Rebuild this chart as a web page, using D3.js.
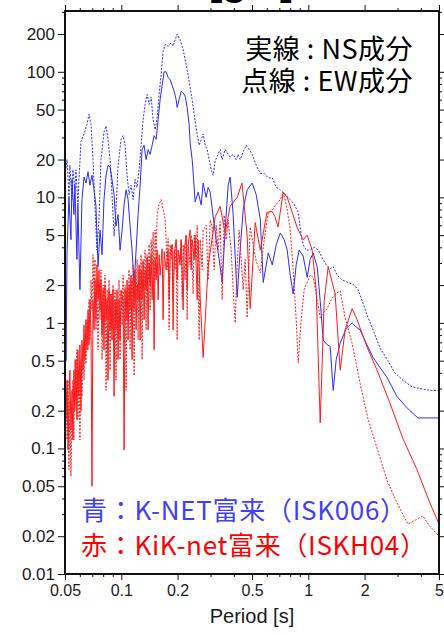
<!DOCTYPE html>
<html>
<head>
<meta charset="utf-8">
<script src="https://cdn.jsdelivr.net/npm/d3@7"></script>
<style>
  body { margin: 0; background: #fff; }
  svg { display: block; }
  .axis text { font-family: "Liberation Sans", Arial, sans-serif; font-size: 16px; fill: #1a1a1a; }
  .axis.yl text { font-size: 17px; }
  .axis path, .axis line { stroke: #111; }
</style>
</head>
<body>
<script>
// period [s], response value  (K-NET = blue, KiK-net = red)
var knetNS = [[0.0500,6.0],[0.0506,0.5],[0.0513,3.8],[0.0525,10],[0.0538,4.6],[0.0545,13.9],[0.0558,7.3],[0.0565,12.5],[0.0579,3.2],[0.0586,8.8],[0.0601,1.84],[0.0616,9.6],[0.0632,14.5],[0.0647,13],[0.0664,16],[0.0680,12.5],[0.0697,15],[0.0715,11.5],[0.0732,8.5],[0.0751,2.8],[0.0770,5.5],[0.0789,3.5],[0.0808,9.6],[0.0829,15],[0.0849,18],[0.0871,17.5],[0.0892,13.9],[0.0915,10.5],[0.0937,5.9],[0.0961,7.3],[0.0985,3.8],[0.1010,5.5],[0.1035,8.7],[0.1061,11.5],[0.1087,9.6],[0.1114,6.0],[0.1142,3.8],[0.1171,2.0],[0.1200,3.8],[0.1230,7.3],[0.1261,12.5],[0.1292,24],[0.1324,26],[0.1357,20],[0.1391,24],[0.1426,22],[0.1462,26],[0.1498,31],[0.1536,29],[0.1574,41.6],[0.1613,60],[0.1653,78],[0.1695,100],[0.1737,100],[0.1780,90],[0.1825,87],[0.1870,78],[0.1917,70],[0.1965,60],[0.1989,52],[0.2039,60],[0.2090,70],[0.2142,68],[0.2195,64],[0.2250,52],[0.2306,38],[0.2335,27],[0.2393,20],[0.2423,15.6],[0.2483,9.2],[0.2577,11],[0.2674,8.7],[0.2740,13],[0.2843,10],[0.2914,12],[0.2987,11],[0.3099,7.1],[0.3216,4.6],[0.3337,3.2],[0.3462,2.1],[0.3593,5.5],[0.3728,12.5],[0.3821,14.5],[0.3965,7.3],[0.4165,1.6],[0.4322,3.8],[0.4485,8],[0.4712,11.5],[0.5012,13],[0.5266,10.5],[0.5536,6.7],[0.5742,2.1],[0.6107,3.6],[0.6416,2.9],[0.6740,4.2],[0.7081,5.2],[0.7435,4.6],[0.7714,3.8],[0.8004,2.4],[0.8302,1.7],[0.8614,2.9],[0.8938,3.8],[0.9390,3.4],[0.9864,2.3],[1.0234,3.2],[1.062,3.6],[1.116,2.8],[1.158,1.5],[1.201,0.73],[1.262,0.67],[1.309,0.65],[1.359,0.29],[1.410,0.51],[1.481,0.69],[1.593,0.9],[1.715,1.0],[1.802,0.93],[1.893,0.88],[2.038,0.69],[2.221,0.53],[2.421,0.44],[2.633,0.37],[2.975,0.26],[3.285,0.22],[3.494,0.2],[3.856,0.175],[4.202,0.175],[5.0,0.175]];

var knetEW = [[0.0500,15],[0.0513,20],[0.0525,10],[0.0531,18],[0.0545,9.6],[0.0551,16.6],[0.0565,11.5],[0.0572,16.6],[0.0586,8.8],[0.0594,13.9],[0.0609,28],[0.0632,32],[0.0655,38],[0.0672,46],[0.0689,38],[0.0706,20],[0.0723,8.5],[0.0741,3.8],[0.0760,6.6],[0.0779,20],[0.0808,33],[0.0829,37],[0.0849,29],[0.0871,20],[0.0892,10.5],[0.0915,4.9],[0.0937,8],[0.0961,18],[0.0997,29],[0.1022,31],[0.1048,26],[0.1074,15],[0.1101,10.5],[0.1128,12.5],[0.1156,9.6],[0.1185,13.9],[0.1215,12],[0.1245,16.6],[0.1276,26],[0.1308,41.6],[0.1341,55],[0.1374,66],[0.1409,55],[0.1444,63],[0.1480,41.6],[0.1517,34.6],[0.1555,43],[0.1593,66],[0.1633,95],[0.1674,145],[0.1716,165],[0.1780,160],[0.1847,170],[0.1893,160],[0.1941,180],[0.1989,200],[0.2064,180],[0.2142,150],[0.2223,114],[0.2306,84],[0.2393,60],[0.2483,40],[0.2545,32],[0.2609,26],[0.2674,28.8],[0.2740,32],[0.2809,26],[0.2879,24],[0.2950,20],[0.3024,16.6],[0.3099,15],[0.3177,19.5],[0.3296,22],[0.3378,24],[0.3462,20],[0.3593,24],[0.3728,22],[0.3821,21],[0.3965,22],[0.4116,20],[0.4216,22],[0.4322,20],[0.4485,23],[0.4654,26],[0.4830,24],[0.5012,22],[0.5266,18],[0.5536,15.5],[0.5813,15.5],[0.6107,14.3],[0.6416,14.3],[0.6740,12],[0.7081,11.5],[0.7529,10.5],[0.8004,9.6],[0.8405,8.8],[0.8829,7.6],[0.9161,5],[0.9390,4.2],[0.9743,3.8],[1.0234,3.8],[1.075,4.0],[1.130,3.8],[1.187,3.3],[1.247,2.9],[1.309,2.7],[1.359,2.8],[1.427,2.4],[1.518,2.2],[1.633,2.1],[1.758,2.0],[1.847,1.84],[1.940,1.5],[2.063,1.15],[2.221,0.88],[2.421,0.63],[2.665,0.5],[2.903,0.4],[3.205,0.35],[3.581,0.31],[3.952,0.3],[4.465,0.29],[5.0,0.29]];

var kiknetNS = [[0.0500,0.51],[0.0506,0.17],[0.0513,0.35],[0.0519,0.097],[0.0525,0.24],[0.0531,0.42],[0.0538,0.14],[0.0545,0.29],[0.0551,0.117],[0.0558,0.42],[0.0565,0.2],[0.0572,0.51],[0.0579,0.17],[0.0586,0.61],[0.0594,0.26],[0.0601,0.67],[0.0609,0.2],[0.0616,0.73],[0.0624,0.42],[0.0632,0.96],[0.0639,0.51],[0.0647,1.06],[0.0655,0.61],[0.0664,1.27],[0.0672,0.67],[0.0680,1.53],[0.0689,0.88],[0.0697,0.05],[0.0706,1.53],[0.0715,0.88],[0.0723,2.2],[0.0732,1.06],[0.0741,2.9],[0.0751,1.53],[0.0760,2.65],[0.0770,1.27],[0.0779,2.2],[0.0789,0.8],[0.0799,1.84],[0.0808,0.61],[0.0818,2.0],[0.0829,1.06],[0.0839,1.53],[0.0849,0.35],[0.0860,1.84],[0.0871,0.88],[0.0881,1.7],[0.0892,0.73],[0.0903,1.84],[0.0915,0.26],[0.0926,1.53],[0.0937,0.88],[0.0949,1.84],[0.0961,0.51],[0.0973,1.53],[0.0985,0.73],[0.0997,1.8],[0.1022,1.53],[0.1035,0.097],[0.1048,1.84],[0.1061,1.06],[0.1074,2.2],[0.1087,0.73],[0.1101,2.0],[0.1114,1.27],[0.1128,2.4],[0.1142,0.51],[0.1156,2.2],[0.1171,1.27],[0.1185,2.65],[0.1200,0.88],[0.1215,2.0],[0.1230,1.53],[0.1245,2.9],[0.1261,0.73],[0.1276,2.65],[0.1292,1.53],[0.1308,3.1],[0.1324,1.06],[0.1341,2.65],[0.1357,1.84],[0.1374,3.3],[0.1391,0.88],[0.1409,2.9],[0.1426,2.0],[0.1444,3.5],[0.1462,1.53],[0.1480,3.1],[0.1498,0.61],[0.1517,3.3],[0.1536,2.2],[0.1555,3.8],[0.1574,1.53],[0.1593,3.5],[0.1613,2.4],[0.1653,3.9],[0.1674,1.06],[0.1695,3.7],[0.1737,2.65],[0.1780,3.8],[0.1802,1.53],[0.1825,3.5],[0.1870,4.2],[0.1893,0.88],[0.1917,3.5],[0.1965,4.6],[0.1989,2.2],[0.2014,3.8],[0.2064,2.9],[0.2090,4.6],[0.2142,1.27],[0.2169,3.8],[0.2223,5.0],[0.2250,1.84],[0.2278,4.2],[0.2335,5.5],[0.2364,2.65],[0.2393,4.6],[0.2453,3.2],[0.2483,5.0],[0.2545,1.53],[0.2577,4.6],[0.2641,1.6],[0.2740,0.53],[0.2914,2.8],[0.3177,7],[0.3378,8.5],[0.3593,5.2],[0.3821,8.5],[0.4165,10],[0.4420,13],[0.4712,4.9],[0.4890,1.3],[0.5200,6.3],[0.5536,3.8],[0.6010,7.6],[0.6416,7.7],[0.6640,7],[0.6890,5.8],[0.7345,11],[0.7714,10],[0.8004,8.5],[0.8700,5.8],[0.9390,4.6],[0.9864,5],[1.049,3.8],[1.102,1.84],[1.158,0.16],[1.216,1.5],[1.278,2.8],[1.392,1.7],[1.481,0.42],[1.574,0.88],[1.715,1.3],[1.824,1.06],[2.063,0.64],[2.333,0.42],[2.732,0.23],[3.205,0.12],[3.809,0.068],[4.465,0.037],[5.0,0.025]];

var kiknetEW = [[0.0500,0.61],[0.0506,0.29],[0.0513,0.117],[0.0519,0.35],[0.0525,0.068],[0.0531,0.24],[0.0538,0.06],[0.0545,0.2],[0.0551,0.35],[0.0558,0.117],[0.0565,0.51],[0.0572,0.24],[0.0579,0.61],[0.0586,0.17],[0.0594,0.42],[0.0601,0.117],[0.0609,0.51],[0.0616,0.26],[0.0624,0.67],[0.0632,0.35],[0.0639,0.8],[0.0647,0.47],[0.0655,1.06],[0.0664,0.61],[0.0672,1.53],[0.0680,0.73],[0.0689,2.2],[0.0697,1.27],[0.0706,3.5],[0.0715,1.53],[0.0723,3.2],[0.0732,0.88],[0.0741,2.0],[0.0751,0.61],[0.0760,1.84],[0.0770,1.06],[0.0779,2.65],[0.0789,0.51],[0.0799,2.0],[0.0808,1.27],[0.0818,2.4],[0.0829,0.29],[0.0839,1.84],[0.0849,1.06],[0.0860,2.2],[0.0871,0.42],[0.0881,1.7],[0.0892,0.88],[0.0903,2.0],[0.0915,0.61],[0.0926,1.84],[0.0937,0.35],[0.0949,1.53],[0.0961,0.8],[0.0973,2.2],[0.0985,0.51],[0.0997,1.84],[0.1010,0.96],[0.1022,2.4],[0.1035,0.67],[0.1048,2.0],[0.1061,0.29],[0.1074,1.84],[0.1087,1.06],[0.1101,2.65],[0.1114,0.61],[0.1128,2.2],[0.1142,1.27],[0.1156,2.9],[0.1171,0.38],[0.1185,2.4],[0.1200,1.53],[0.1215,3.2],[0.1230,0.73],[0.1245,2.65],[0.1261,1.53],[0.1276,3.5],[0.1292,0.51],[0.1308,3.2],[0.1324,1.84],[0.1341,3.8],[0.1357,0.88],[0.1374,3.5],[0.1391,2.2],[0.1409,4.2],[0.1426,1.27],[0.1444,4.6],[0.1462,2.9],[0.1480,5.3],[0.1498,1.53],[0.1517,5.5],[0.1536,3.2],[0.1555,7.2],[0.1593,8.8],[0.1633,9.6],[0.1674,8.0],[0.1716,6.6],[0.1737,4.6],[0.1759,2.65],[0.1780,4.7],[0.1802,0.88],[0.1825,4.2],[0.1847,3.2],[0.1870,4.2],[0.1893,1.53],[0.1917,3.8],[0.1941,2.65],[0.1965,4.6],[0.1989,0.73],[0.2014,3.8],[0.2064,3.2],[0.2090,4.6],[0.2116,1.53],[0.2142,4.2],[0.2195,2.2],[0.2223,5.0],[0.2250,1.06],[0.2278,4.2],[0.2335,2.9],[0.2364,5.0],[0.2423,1.7],[0.2453,5.0],[0.2514,3.2],[0.2545,6.0],[0.2609,0.73],[0.2641,4.6],[0.2707,2.65],[0.2740,5.5],[0.2843,6.0],[0.2914,2.2],[0.2987,6.6],[0.3061,5.8],[0.3138,2.65],[0.3216,6.0],[0.3296,3.8],[0.3378,6.4],[0.3462,1.53],[0.3549,7.2],[0.3637,4.6],[0.3728,6.6],[0.3868,3.8],[0.3965,1.84],[0.4064,1.0],[0.4165,2.9],[0.4269,5.5],[0.4375,3.2],[0.4485,1.84],[0.4597,3.2],[0.4712,1.1],[0.4890,5.8],[0.5074,4.2],[0.5266,3.1],[0.5536,2.5],[0.5813,4.6],[0.6107,7.6],[0.6416,7.9],[0.6740,8.8],[0.7081,9.6],[0.7345,11],[0.7619,8.8],[0.8004,5.6],[0.8302,2.65],[0.8614,1.06],[0.8829,0.48],[0.9161,1.06],[0.9506,1.84],[0.9864,2.1],[1.0234,2.4],[1.062,2.3],[1.102,1.7],[1.158,1.1],[1.201,1.2],[1.262,1.3],[1.326,1.53],[1.392,1.7],[1.481,1.8],[1.574,1.1],[1.715,0.69],[1.893,0.33],[2.089,0.17],[2.333,0.1],[2.633,0.056],[2.975,0.037],[3.408,0.025],[3.762,0.027],[4.099,0.029],[4.465,0.024],[5.0,0.02]];

var xMajor = [0.05, 0.1, 0.2, 0.5, 1, 2, 5];
var xMinor = [0.06, 0.07, 0.08, 0.09, 0.3, 0.4, 0.6, 0.7, 0.8, 0.9, 3, 4];
var yMajor = [0.01, 0.02, 0.05, 0.1, 0.2, 0.5, 1, 2, 5, 10, 20, 50, 100, 200];
var yMinor = [0.03, 0.04, 0.06, 0.07, 0.08, 0.09, 0.3, 0.4, 0.6, 0.7, 0.8, 0.9, 3, 4, 6, 7, 8, 9, 30, 40, 60, 70, 80, 90, 300];

(function () {
    var width = 444, height = 635,
        padL = 65, padR = 439, padT = 11, padB = 574,
        jp = '"Noto Sans CJK JP", "Noto Sans", sans-serif',
        latin = '"Liberation Sans", Arial, sans-serif';

    var svg = d3.select('body').append('svg')
        .attr('width', width)
        .attr('height', height);

    var x = d3.scaleLog().domain([0.05, 5]).range([padL, padR]);
    var y = d3.scaleLog().domain([0.01, 305]).range([padB, padT]);

    function fmt(d) { return String(d); }

    // title, mostly above the page edge
    svg.append('text')
        .attr('x', 209).attr('y', -5)
        .style('font-family', latin)
        .style('font-weight', 'bold')
        .style('font-size', '40px')
        .text('[gal]');

    // axes: labelled ticks at 1-2-5, short ones in between
    function addAxis(axis, tx, ty, cls) {
        svg.append('g').attr('class', 'axis ' + (cls || ''))
            .attr('transform', 'translate(' + tx + ',' + ty + ')')
            .call(axis);
    }
    var yMinorIn = yMinor.filter(function (d) { return d < 305; });
    addAxis(d3.axisBottom(x).tickValues(xMajor).tickSize(6).tickPadding(5).tickFormat(fmt), 0, padB);
    addAxis(d3.axisBottom(x).tickValues(xMinor).tickSize(3).tickFormat(''), 0, padB);
    addAxis(d3.axisTop(x).tickValues(xMajor).tickSize(6).tickFormat(''), 0, padT);
    addAxis(d3.axisTop(x).tickValues(xMinor).tickSize(3).tickFormat(''), 0, padT);
    addAxis(d3.axisLeft(y).tickValues(yMajor).tickSize(7).tickPadding(3).tickFormat(fmt), padL, 0, 'yl');
    addAxis(d3.axisLeft(y).tickValues(yMinorIn).tickSize(3).tickFormat(''), padL, 0);
    addAxis(d3.axisRight(y).tickValues(yMajor).tickSize(6).tickFormat(''), padR, 0);
    addAxis(d3.axisRight(y).tickValues(yMinorIn).tickSize(3).tickFormat(''), padR, 0);
    svg.selectAll('.axis path').remove();

    // spectra
    var line = d3.line()
        .x(function (d) { return x(d[0]); })
        .y(function (d) { return y(d[1]); });

    svg.append('clipPath').attr('id', 'clip')
        .append('rect').attr('x', padL).attr('y', padT)
        .attr('width', padR - padL).attr('height', padB - padT);

    var plot = svg.append('g').attr('clip-path', 'url(#clip)');
    var series = [
        { data: knetEW, color: '#2b2bff', dash: '2,1.5' },
        { data: knetNS, color: '#2b2bff', dash: null },
        { data: kiknetEW, color: '#ff1a1a', dash: '2,1.5' },
        { data: kiknetNS, color: '#ff1a1a', dash: null }
    ];
    series.forEach(function (s) {
        plot.append('path')
            .attr('d', line(s.data))
            .attr('fill', 'none')
            .attr('stroke', s.color)
            .attr('stroke-width', 1)
            .attr('stroke-dasharray', s.dash);
    });

    // frame
    svg.append('rect')
        .attr('x', padL).attr('y', padT)
        .attr('width', padR - padL).attr('height', padB - padT)
        .attr('fill', 'none').attr('stroke', '#111').attr('stroke-width', 2);

    // notes
    svg.append('text').attr('x', 413).attr('y', 59)
        .attr('text-anchor', 'end')
        .style('font-family', jp).style('font-size', '27px')
        .style('letter-spacing', '0.5px').attr('fill', '#000')
        .text('実線 : NS成分');
    svg.append('text').attr('x', 413).attr('y', 91)
        .attr('text-anchor', 'end')
        .style('font-family', jp).style('font-size', '27px')
        .style('letter-spacing', '0.5px').attr('fill', '#000')
        .text('点線 : EW成分');

    svg.append('text').attr('x', 81).attr('y', 520)
        .style('font-family', jp).style('font-size', '26px')
        .style('letter-spacing', '0.7px').attr('fill', '#3f3ff5')
        .text('青：K-NET富来（ISK006）');
    svg.append('text').attr('x', 81).attr('y', 555)
        .style('font-family', jp).style('font-size', '26px')
        .style('letter-spacing', '0.7px').attr('fill', '#ff0000')
        .text('赤：KiK-net富来（ISKH04）');

    svg.append('text')
        .attr('x', (padL + padR) / 2).attr('y', 623)
        .attr('text-anchor', 'middle')
        .style('font-family', latin)
        .style('font-size', '20px').attr('fill', '#1a1a1a')
        .text('Period [s]');
}());
</script>
</body>
</html>
